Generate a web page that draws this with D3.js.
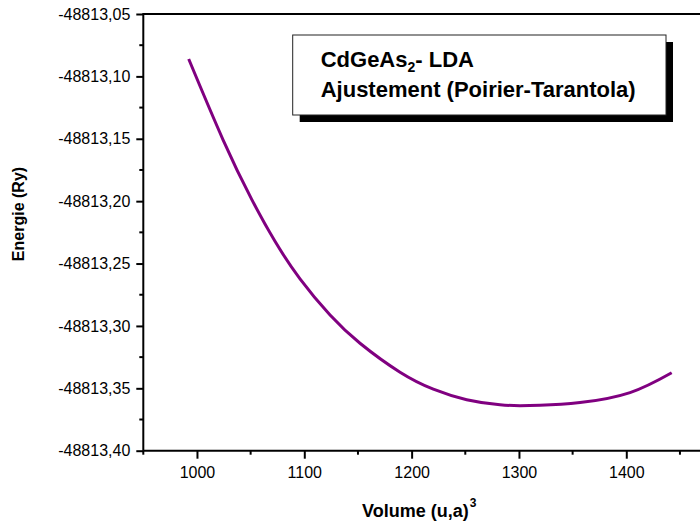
<!DOCTYPE html>
<html>
<head>
<meta charset="utf-8">
<script src="https://cdn.jsdelivr.net/npm/d3@7"></script>
<style>
  html, body { margin: 0; padding: 0; background: #fff; }
  svg { display: block; font-family: Arial, "Liberation Sans", sans-serif; }
</style>
</head>
<body>
<svg id="chart" width="700" height="528"></svg>
<script>
// ---- data ----
const volume = [992.3, 1024.3, 1051.0, 1072.7, 1096.0, 1124.0, 1151.9, 1189.2, 1220.2, 1251.3, 1282.3, 1301.0, 1319.6, 1356.9, 1403.5, 1442.3];
const energy = [-48813.0861, -48813.1508, -48813.1986, -48813.2322, -48813.2623, -48813.2913, -48813.3139, -48813.3371, -48813.3507, -48813.3591, -48813.3632, -48813.3639, -48813.3636, -48813.3614, -48813.3534, -48813.3375];
const xMajorTicks = [1000, 1100, 1200, 1300, 1400];
const xMinorTicks = [950, 1050, 1150, 1250, 1350, 1450];
const yMajorTicks = [-48813.40, -48813.35, -48813.30, -48813.25, -48813.20, -48813.15, -48813.10, -48813.05];
const yMinorTicks = [-48813.375, -48813.325, -48813.275, -48813.225, -48813.175, -48813.125, -48813.075];
const xTitle = "Volume (u,a)";
const xTitleSup = "3";
const yTitle = "Energie (Ry)";
const legendLine1 = ["CdGeAs", "2", "- LDA"];
const legendLine2 = "Ajustement (Poirier-Tarantola)";

const svg = d3.select("#chart");
const pLeft = 143.3, pTop = 14, pBottom = 450.7;
const x = d3.scaleLinear().domain([950, 1500]).range([pLeft, pLeft + 550 * 1.0733]);
const y = d3.scaleLinear().domain([-48813.40, -48813.05]).range([pBottom, pTop]);
const loc = d3.formatLocale({decimal: ",", thousands: "", grouping: [3], currency: ["", ""], minus: "-"});
const fmt = loc.format(".2f");
const FONT = "Arial, 'Liberation Sans', sans-serif";

// curve
const pts = volume.map((v, i) => [v, energy[i]]);
svg.append("path")
  .datum(pts)
  .attr("fill", "none")
  .attr("stroke", "#800080")
  .attr("stroke-width", 3)
  .attr("d", d3.line().x(d => x(d[0])).y(d => y(d[1])).curve(d3.curveNatural));

// bottom axis
const gx = svg.append("g").attr("transform", `translate(0,${pBottom})`);
gx.call(d3.axisBottom(x).tickValues(xMajorTicks).tickFormat(d3.format("d")).tickSize(8).tickPadding(8).tickSizeOuter(0));
gx.select(".domain").attr("stroke-width", 2).attr("d", `M${pLeft},0H700`);
gx.selectAll(".tick line").attr("stroke-width", 2);
gx.selectAll(".tick text").attr("font-size", 16).attr("fill", "#000").attr("font-family", FONT);
gx.selectAll(".minor").data(xMinorTicks).enter().append("line")
  .attr("class", "minor")
  .attr("x1", d => x(d)).attr("x2", d => x(d)).attr("y1", 0).attr("y2", 4)
  .attr("stroke", "#000").attr("stroke-width", 2);

// left axis
const gy = svg.append("g").attr("transform", `translate(${pLeft},0)`);
gy.call(d3.axisLeft(y).tickValues(yMajorTicks).tickFormat(fmt).tickSize(7).tickPadding(6).tickSizeOuter(0));
gy.select(".domain").attr("stroke-width", 2).attr("d", `M0,${pTop}V${pBottom}`);
gy.selectAll(".tick line").attr("stroke-width", 2);
gy.selectAll(".tick text").attr("font-size", 16).attr("fill", "#000").attr("font-family", FONT);
gy.selectAll(".minor").data(yMinorTicks).enter().append("line")
  .attr("class", "minor")
  .attr("y1", d => y(d)).attr("y2", d => y(d)).attr("x1", 0).attr("x2", -4)
  .attr("stroke", "#000").attr("stroke-width", 2);

// top frame line
svg.append("line").attr("x1", pLeft - 1).attr("x2", 700).attr("y1", pTop).attr("y2", pTop)
  .attr("stroke", "#000").attr("stroke-width", 2);

// axis titles
const xt = svg.append("text").attr("x", 362).attr("y", 517)
  .attr("font-size", 18).attr("font-weight", "bold").attr("fill", "#000");
xt.append("tspan").text(xTitle);
xt.append("tspan").attr("font-size", 12).attr("dy", -10).attr("dx", 1).text(xTitleSup);

svg.append("text")
  .attr("transform", `translate(24,214) rotate(-90)`)
  .attr("text-anchor", "middle")
  .attr("font-size", 16).attr("font-weight", "bold").attr("fill", "#000")
  .text(yTitle);

// legend box with shadow
const bx = 292.7, by = 35, bw = 373.3, bh = 80;
svg.append("rect").attr("x", bx + 7).attr("y", by + 7).attr("width", bw).attr("height", bh).attr("fill", "#000");
svg.append("rect").attr("x", bx).attr("y", by).attr("width", bw).attr("height", bh)
  .attr("fill", "#fff").attr("stroke", "#222").attr("stroke-width", 1);
const l1 = svg.append("text").attr("x", 320.7).attr("y", 67).attr("font-size", 22).attr("font-weight", "bold").attr("fill", "#000");
l1.append("tspan").text(legendLine1[0]);
l1.append("tspan").attr("font-size", 14).attr("dy", 5).text(legendLine1[1]);
l1.append("tspan").attr("dy", -5).text(legendLine1[2]);
svg.append("text").attr("x", 320.7).attr("y", 97).attr("font-size", 22).attr("font-weight", "bold").attr("fill", "#000")
  .text(legendLine2);
</script>
</body>
</html>
